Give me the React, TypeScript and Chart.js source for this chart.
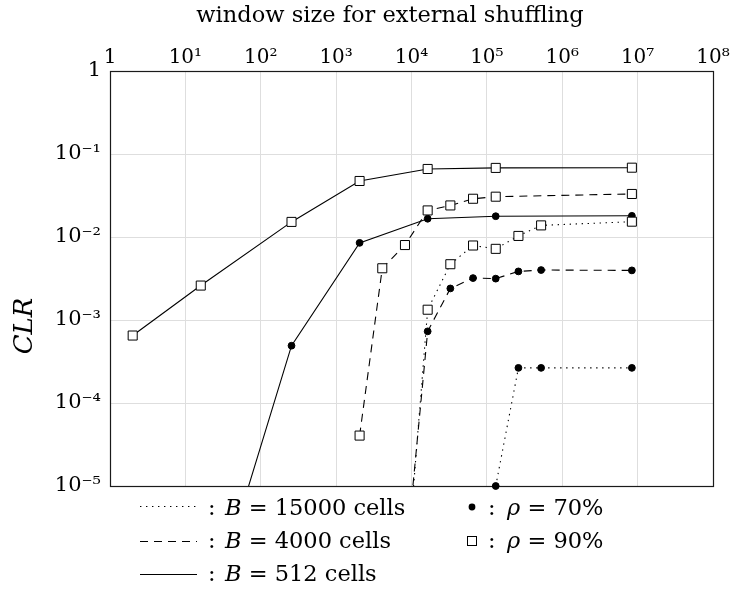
import React, { useEffect, useRef } from 'react';
import { Chart, registerables } from 'chart.js';

Chart.register(...registerables);

const FONT = '"DejaVu Serif", serif';

// ---- text ----
const xAxisTitle = 'window size for external shuffling';
const yAxisTitle = 'CLR';

// ---- ticks ----
const xTickValues = [1, 1e1, 1e2, 1e3, 1e4, 1e5, 1e6, 1e7, 1e8];
const xTickLabels = ['1', '10¹', '10²', '10³', '10⁴', '10⁵', '10⁶', '10⁷', '10⁸'];
const yTickValues = [1e-5, 1e-4, 1e-3, 1e-2, 1e-1, 1];
const yTickLabels = ['10⁻⁵', '10⁻⁴', '10⁻³', '10⁻²', '10⁻¹', '1'];

// ---- data (window size, CLR) ----
const b512rho90X = [2, 16, 256, 2048, 16384, 131072, 8388608];
const b512rho90Y = [6.5e-4, 2.6e-3, 0.0152, 0.0473, 0.066, 0.068, 0.0684];

const b512rho70X = [16, 256, 2048, 16384, 131072, 8388608];
const b512rho70Y = [1.3e-7, 4.9e-4, 8.5e-3, 0.0166, 0.0178, 0.018];

const b4000rho90X = [2048, 4096, 8192, 16384, 32768, 65536, 131072, 8388608];
const b4000rho90Y = [4.05e-5, 4.2e-3, 8.0e-3, 0.0209, 0.024, 0.0289, 0.0306, 0.033];

const b4000rho70X = [8192, 16384, 32768, 65536, 131072, 262144, 524288, 8388608];
const b4000rho70Y = [1e-6, 7.3e-4, 2.4e-3, 3.2e-3, 3.15e-3, 3.85e-3, 4.0e-3, 3.96e-3];

const b15000rho90X = [8192, 16384, 32768, 65536, 131072, 262144, 524288, 8388608];
const b15000rho90Y = [5e-7, 1.33e-3, 4.7e-3, 7.9e-3, 7.2e-3, 0.0103, 0.0138, 0.0153];

const b15000rho70X = [131072, 262144, 524288, 8388608];
const b15000rho70Y = [1e-5, 2.65e-4, 2.65e-4, 2.65e-4];

// ---- legend ----
const blockSizes = ['15000', '4000', '512'];
const rhoLabels = ['70%', '90%'];

const DOTTED = [1.4, 4.6];
const DASHED = [8, 6];
const SOLID: number[] = [];

const toPoints = (xs: number[], ys: number[]) => xs.map((x, i) => ({ x, y: ys[i] }));

const makeSet = (label: string, xs: number[], ys: number[], dash: number[], filled: boolean, clip: any = undefined) => {
  const ds: any = {
    label,
    data: toPoints(xs, ys),
    borderColor: '#000',
    borderWidth: 1.1,
    borderDash: dash,
    pointStyle: filled ? 'circle' : 'rect',
    pointRadius: filled ? 3.4 : 6.4,
    pointBorderWidth: 1,
    pointBorderColor: '#000',
    pointBackgroundColor: filled ? '#000' : '#fff',
    tension: 0,
    fill: false,
  };
  if (clip !== undefined) ds.clip = clip;
  return ds;
};

const framePlugin = {
  id: 'frame',
  beforeDatasetsDraw(chart: any) {
    const { ctx, chartArea: a } = chart;
    ctx.save();
    ctx.strokeStyle = '#1a1a1a';
    ctx.lineWidth = 1.2;
    ctx.strokeRect(Math.round(a.left) + 0.5, Math.round(a.top) + 0.5, Math.round(a.right - a.left), Math.round(a.bottom - a.top));
    ctx.restore();
  },
};

const LEG_FONT = 22.5;

const extrasPlugin = {
  id: 'extras',
  afterDraw(chart: any) {
    const ctx = chart.ctx as CanvasRenderingContext2D;
    ctx.save();
    ctx.fillStyle = '#000';
    ctx.strokeStyle = '#000';

    // x axis title (top)
    ctx.font = `22.5px ${FONT}`;
    ctx.textAlign = 'center';
    ctx.textBaseline = 'middle';
    ctx.fillText(xAxisTitle, 390, 16);

    // y axis title
    ctx.save();
    ctx.translate(25, 326);
    ctx.rotate(-Math.PI / 2);
    ctx.font = `italic 26px ${FONT}`;
    ctx.textAlign = 'center';
    ctx.textBaseline = 'middle';
    ctx.fillText(yAxisTitle, 0, 0);
    ctx.restore();

    // legend: line styles
    const dashes = [DOTTED, DASHED, SOLID];
    const baseY = [515, 548, 581];
    const lineY = [506, 541, 574];
    ctx.textBaseline = 'alphabetic';
    ctx.textAlign = 'left';
    for (let i = 0; i < 3; i++) {
      ctx.beginPath();
      ctx.setLineDash(dashes[i]);
      ctx.lineWidth = 1.1;
      ctx.moveTo(140, lineY[i] + 0.5);
      ctx.lineTo(197, lineY[i] + 0.5);
      ctx.stroke();
      ctx.setLineDash([]);
      ctx.font = `${LEG_FONT}px ${FONT}`;
      ctx.fillText(':', 208, baseY[i]);
      let x = 225;
      ctx.font = `italic ${LEG_FONT}px ${FONT}`;
      ctx.fillText('B', x, baseY[i]);
      x += ctx.measureText('B').width;
      ctx.font = `${LEG_FONT}px ${FONT}`;
      ctx.fillText(` = ${blockSizes[i]} cells`, x, baseY[i]);
    }

    // legend: markers
    const mY = [507, 541];
    for (let i = 0; i < 2; i++) {
      if (i === 0) {
        ctx.beginPath();
        ctx.arc(472, mY[i], 3.4, 0, Math.PI * 2);
        ctx.fill();
      } else {
        ctx.lineWidth = 1;
        ctx.fillStyle = '#fff';
        ctx.fillRect(467.5, mY[i] - 4.5, 9, 9);
        ctx.strokeRect(467.5, mY[i] - 4.5, 9, 9);
        ctx.fillStyle = '#000';
      }
      ctx.font = `${LEG_FONT}px ${FONT}`;
      ctx.fillText(':', 488, baseY[i]);
      let x = 507;
      ctx.font = `italic ${LEG_FONT}px ${FONT}`;
      ctx.fillText('ρ', x, baseY[i]);
      x += ctx.measureText('ρ').width;
      ctx.font = `${LEG_FONT}px ${FONT}`;
      ctx.fillText(` = ${rhoLabels[i]}`, x, baseY[i]);
    }
    ctx.restore();
  },
};

const labelFor = (values: number[], labels: string[], v: number) => {
  let best = 0;
  let bd = Infinity;
  values.forEach((t, i) => {
    const d = Math.abs(Math.log10(t) - Math.log10(v));
    if (d < bd) { bd = d; best = i; }
  });
  return bd < 1e-6 ? labels[best] : '';
};

export default function App() {
  const ref = useRef<HTMLCanvasElement | null>(null);

  useEffect(() => {
    if (!ref.current) return;
    document.body.style.margin = '0';
    document.body.style.overflow = 'hidden';
    const chart = new Chart(ref.current, {
      type: 'line',
      data: {
        datasets: [
          makeSet('B=15000, ρ=70%', b15000rho70X, b15000rho70Y, DOTTED, true, false),
          makeSet('B=15000, ρ=90%', b15000rho90X, b15000rho90Y, DOTTED, false),
          makeSet('B=4000, ρ=70%', b4000rho70X, b4000rho70Y, DASHED, true),
          makeSet('B=4000, ρ=90%', b4000rho90X, b4000rho90Y, DASHED, false),
          makeSet('B=512, ρ=70%', b512rho70X, b512rho70Y, SOLID, true),
          makeSet('B=512, ρ=90%', b512rho90X, b512rho90Y, SOLID, false),
        ],
      },
      options: {
        responsive: false,
        animation: false,
        layout: { padding: { top: 0, left: 0, right: 18, bottom: 104 } },
        plugins: {
          legend: { display: false },
          tooltip: { enabled: false },
        },
        scales: {
          x: {
            type: 'logarithmic',
            position: 'top',
            min: 1,
            max: 1e8,
            afterBuildTicks: (scale: any) => {
              scale.ticks = xTickValues.map((value) => ({ value }));
            },
            afterFit: (scale: any) => {
              scale.height = 71;
              scale.paddingLeft = 0;
              scale.paddingRight = 0;
            },
            ticks: {
              autoSkip: false,
              maxRotation: 0,
              padding: 1,
              color: '#000',
              font: { family: FONT, size: 20 },
              callback: (v: any) => labelFor(xTickValues, xTickLabels, Number(v)),
            },
            grid: { color: '#dedede', lineWidth: 1, drawTicks: false },
            border: { display: false },
          },
          y: {
            type: 'logarithmic',
            min: 1e-5,
            max: 1,
            afterBuildTicks: (scale: any) => {
              scale.ticks = yTickValues.map((value) => ({ value }));
            },
            afterFit: (scale: any) => {
              scale.width = 110;
              scale.paddingTop = 0;
              scale.paddingBottom = 0;
            },
            ticks: {
              autoSkip: false,
              padding: 9,
              color: '#000',
              font: { family: FONT, size: 21 },
              callback: (v: any) => labelFor(yTickValues, yTickLabels, Number(v)),
            },
            grid: { color: '#dedede', lineWidth: 1, drawTicks: false },
            border: { display: false },
          },
        },
      } as any,
      plugins: [framePlugin, extrasPlugin],
    });
    return () => chart.destroy();
  }, []);

  return (
    <div style={{ width: 731, height: 590 }}>
      <canvas ref={ref} width={731} height={590} style={{ display: 'block' }} />
    </div>
  );
}
